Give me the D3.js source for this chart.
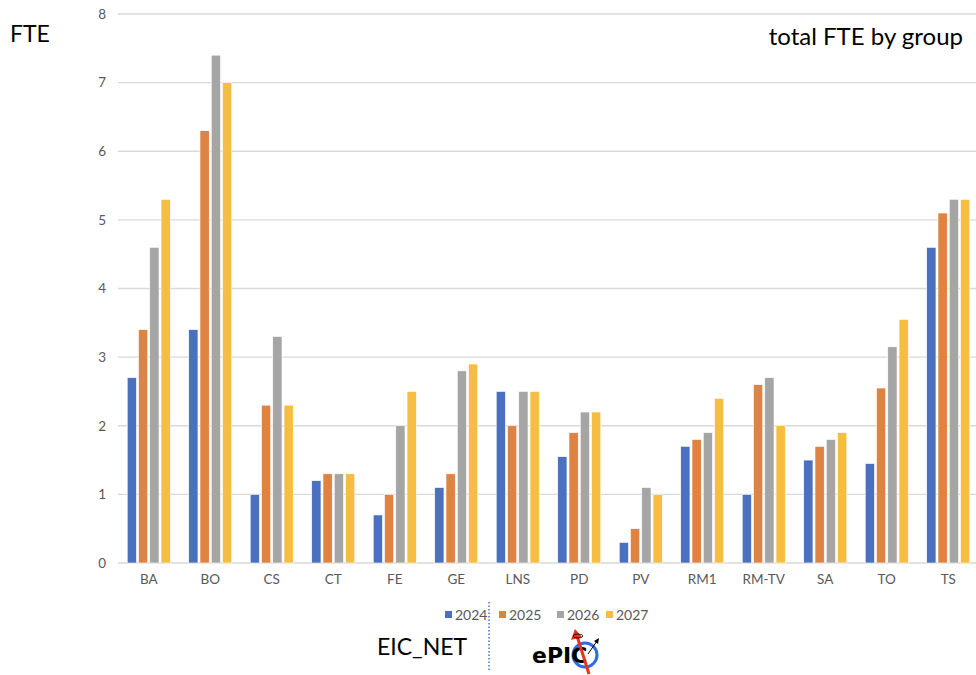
<!DOCTYPE html>
<html>
<head>
<meta charset="utf-8">
<script src="https://cdn.jsdelivr.net/npm/d3@7"></script>
<style>
  body { margin: 0; background: #fff; }
  svg { font-family: Lato, "Open Sans", sans-serif; }
</style>
</head>
<body>
<div id="chart"></div>
<script>
// groups and yearly FTE values
const groups = ["BA", "BO", "CS", "CT", "FE", "GE", "LNS", "PD", "PV", "RM1", "RM-TV", "SA", "TO", "TS"];
const years = ["2024", "2025", "2026", "2027"];
const fte2024 = [2.7, 3.4, 1.0, 1.2, 0.7, 1.1, 2.5, 1.55, 0.3, 1.7, 1.0, 1.5, 1.45, 4.6];
const fte2025 = [3.4, 6.3, 2.3, 1.3, 1.0, 1.3, 2.0, 1.9, 0.5, 1.8, 2.6, 1.7, 2.55, 5.1];
const fte2026 = [4.6, 7.4, 3.3, 1.3, 2.0, 2.8, 2.5, 2.2, 1.1, 1.9, 2.7, 1.8, 3.15, 5.3];
const fte2027 = [5.3, 7.0, 2.3, 1.3, 2.5, 2.9, 2.5, 2.2, 1.0, 2.4, 2.0, 1.9, 3.55, 5.3];
const yTicks = [0, 1, 2, 3, 4, 5, 6, 7, 8];
const colors = ["#4a70bf", "#df8343", "#a5a5a5", "#f5bd42"];

const series = [fte2024, fte2025, fte2026, fte2027];
const data = groups.map((g, i) => ({
  key: g,
  values: years.map((yr, j) => ({ year: yr, value: series[j][i] }))
}));

const W = 976, H = 675;
const svg = d3.select("#chart").append("svg")
  .attr("width", W)
  .attr("height", H);

const x = d3.scaleBand()
  .domain(groups)
  .range([118, 979])
  .paddingInner(0.3)
  .paddingOuter(0.15);

const xSub = d3.scaleBand()
  .domain(years)
  .range([0, x.bandwidth()])
  .paddingInner(0.18);

const y = d3.scaleLinear()
  .domain([0, 8])
  .range([563, 14]);

const color = d3.scaleOrdinal().domain(years).range(colors);

// gridlines
svg.append("g")
  .selectAll("line")
  .data(yTicks)
  .enter()
  .append("line")
  .attr("x1", 118)
  .attr("x2", W)
  .attr("y1", d => y(d))
  .attr("y2", d => y(d))
  .attr("stroke", "#d9d9d9")
  .attr("stroke-width", 1.3);

// y axis labels
const yAxis = svg.append("g")
  .attr("transform", "translate(106,0)")
  .call(d3.axisLeft(y).tickValues(yTicks).tickSize(0).tickPadding(0));
yAxis.select(".domain").remove();
yAxis.selectAll("text")
  .style("font-family", "Lato, sans-serif")
  .style("font-size", "13.5px")
  .attr("fill", "#595959");

// bars
svg.append("g")
  .selectAll("g")
  .data(data)
  .enter()
  .append("g")
  .attr("transform", d => `translate(${x(d.key)},0)`)
  .selectAll("rect")
  .data(d => d.values)
  .enter()
  .append("rect")
  .attr("x", d => xSub(d.year))
  .attr("width", xSub.bandwidth())
  .attr("y", d => y(d.value))
  .attr("height", d => y(0) - y(d.value))
  .attr("fill", d => color(d.year))
  .attr("stroke", "#fff")
  .attr("stroke-width", 0.6);

// x axis labels
const xAxis = svg.append("g")
  .attr("transform", "translate(0,574)")
  .call(d3.axisBottom(x).tickSize(0).tickPadding(0));
xAxis.select(".domain").remove();
xAxis.selectAll("text")
  .style("font-family", "Lato, sans-serif")
  .style("font-size", "13.5px")
  .attr("fill", "#595959");

// titles
svg.append("text")
  .attr("x", 10)
  .attr("y", 42)
  .style("font-size", "23px")
  .attr("fill", "#000")
  .text("FTE");

svg.append("text")
  .attr("x", 963)
  .attr("y", 45)
  .attr("text-anchor", "end")
  .style("font-size", "24px")
  .attr("fill", "#000")
  .text("total FTE by group");

// legend
const legendX = [445, 499, 557, 606];
const legend = svg.append("g")
  .selectAll("g")
  .data(years)
  .enter()
  .append("g")
  .attr("transform", (d, i) => `translate(${legendX[i]},615)`);
legend.append("rect")
  .attr("x", 0)
  .attr("y", -4)
  .attr("width", 7)
  .attr("height", 7)
  .attr("fill", d => color(d));
legend.append("text")
  .attr("x", 10)
  .attr("y", 5)
  .style("font-size", "14px")
  .attr("fill", "#595959")
  .text(d => d);

// footer: EIC_NET | ePIC
svg.append("text")
  .attr("x", 377)
  .attr("y", 655)
  .style("font-size", "23px")
  .attr("fill", "#000")
  .text("EIC_NET");

svg.append("line")
  .attr("x1", 489)
  .attr("x2", 489)
  .attr("y1", 602)
  .attr("y2", 670)
  .attr("stroke", "#4a70bf")
  .attr("stroke-width", 1.5)
  .attr("stroke-dasharray", "1.5,2");

const logo = svg.append("g");
logo.append("circle")
  .attr("cx", 585)
  .attr("cy", 655)
  .attr("r", 12)
  .attr("fill", "none")
  .attr("stroke", "#2b6de0")
  .attr("stroke-width", 3);
logo.append("text")
  .attr("x", 532)
  .attr("y", 663)
  .style("font-family", "'DejaVu Sans', sans-serif")
  .style("font-weight", "bold")
  .style("font-size", "22px")
  .attr("fill", "#000")
  .text("ePIC");
logo.append("line")
  .attr("x1", 589)
  .attr("y1", 674)
  .attr("x2", 577)
  .attr("y2", 636)
  .attr("stroke", "#e8321e")
  .attr("stroke-width", 3);
logo.append("path")
  .attr("d", "M575,629 L571,640 L582,637 Z")
  .attr("fill", "#e8321e");
logo.append("ellipse")
  .attr("cx", 578)
  .attr("cy", 636)
  .attr("rx", 5)
  .attr("ry", 2)
  .attr("fill", "none")
  .attr("stroke", "#000")
  .attr("stroke-width", 0.8);
logo.append("line")
  .attr("x1", 588)
  .attr("y1", 654)
  .attr("x2", 597)
  .attr("y2", 641)
  .attr("stroke", "#000")
  .attr("stroke-width", 1);
logo.append("path")
  .attr("d", "M599,638 L594,641 L598,644 Z")
  .attr("fill", "#000");
</script>
</body>
</html>
